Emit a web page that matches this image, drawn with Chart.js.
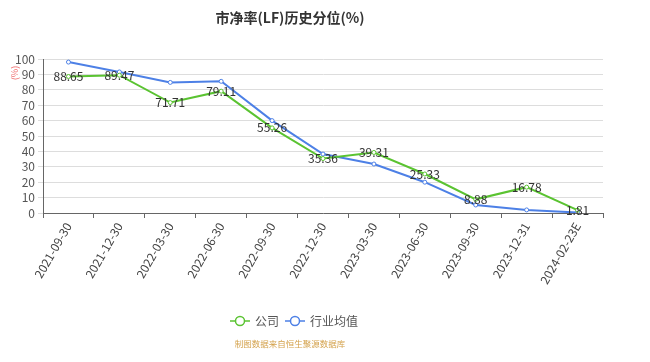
<!DOCTYPE html>
<html>
<head>
<meta charset="utf-8">
<script src="https://cdn.jsdelivr.net/npm/chart.js@4/dist/chart.umd.min.js"></script>
<style>
  html, body { margin: 0; padding: 0; background: #fff; }
  #wrap { width: 650px; height: 362px; }
</style>
</head>
<body>
<div id="wrap"><canvas id="pbChart" width="650" height="362"></canvas></div>
<script>
const dates = ['2021-09-30', '2021-12-30', '2022-03-30', '2022-06-30', '2022-09-30', '2022-12-30',
  '2023-03-30', '2023-06-30', '2023-09-30', '2023-12-31', '2024-02-23E'];
const companyPct = [88.65, 89.47, 71.71, 79.11, 55.26, 35.36, 39.31, 25.33, 8.88, 16.78, 1.81];
const industryPct = [98.0, 91.6, 84.8, 85.5, 60.0, 38.3, 31.8, 20.0, 5.2, 2.0, 0.3];

const GREEN = '#5ac331';
const BLUE = '#4d80e6';
const FONT = "'Noto Sans CJK SC', 'Noto Sans', sans-serif";

// labels on company points + title, legend, source, unit
const extras = {
  id: 'extras',
  afterDatasetsDraw(chart) {
    const c = chart.ctx;
    const meta = chart.getDatasetMeta(0);
    c.save();
    c.font = '12px ' + FONT;
    c.fillStyle = '#333';
    c.textAlign = 'center';
    c.textBaseline = 'middle';
    meta.data.forEach((pt, i) => {
      c.fillText(companyPct[i].toFixed(2), pt.x, pt.y);
    });
    c.restore();
  },
  afterDraw(chart) {
    const c = chart.ctx;
    c.save();
    // title
    c.font = 'bold 14px ' + FONT;
    c.fillStyle = '#333';
    c.textAlign = 'center';
    c.textBaseline = 'middle';
    c.fillText('市净率(LF)历史分位(%)', 290, 18);

    // unit
    c.save();
    c.translate(15, 73);
    c.rotate(-Math.PI / 2);
    c.font = '9px ' + FONT;
    c.fillStyle = '#f07070';
    c.fillText('(%)', 0, 0);
    c.restore();

    // legend
    const items = [['公司', GREEN, 230], ['行业均值', BLUE, 285]];
    c.font = '12px ' + FONT;
    c.textAlign = 'left';
    items.forEach(([txt, col, x]) => {
      const y = 321;
      c.strokeStyle = col;
      c.lineWidth = 1.5;
      c.beginPath();
      c.moveTo(x, y); c.lineTo(x + 20, y);
      c.stroke();
      c.beginPath();
      c.arc(x + 10, y, 4.5, 0, Math.PI * 2);
      c.fillStyle = '#fff';
      c.fill();
      c.stroke();
      c.fillStyle = '#555';
      c.fillText(txt, x + 25, y);
    });

    // source
    c.font = '8.5px ' + FONT;
    c.fillStyle = '#d4a24c';
    c.textAlign = 'center';
    c.fillText('制图数据来自恒生聚源数据库', 290, 344);
    c.restore();
  }
};

const ctx = document.getElementById('pbChart').getContext('2d');
new Chart(ctx, {
  type: 'line',
  data: {
    labels: dates,
    datasets: [
      {
        label: '公司',
        data: companyPct,
        borderColor: GREEN,
        backgroundColor: '#fff',
        borderWidth: 2,
        pointRadius: 2,
        pointBorderWidth: 1,
        tension: 0
      },
      {
        label: '行业均值',
        data: industryPct,
        borderColor: BLUE,
        backgroundColor: '#fff',
        borderWidth: 2,
        pointRadius: 2,
        pointBorderWidth: 1,
        tension: 0
      }
    ]
  },
  options: {
    responsive: false,
    animation: false,
    layout: { padding: { top: 59, left: 0, right: 47, bottom: 70 } },
    plugins: {
      legend: { display: false },
      title: { display: false },
      tooltip: { enabled: false }
    },
    scales: {
      x: {
        offset: true,
        grid: { offset: true, drawOnChartArea: false, tickLength: 5, color: '#666' },
        border: { color: '#666' },
        ticks: {
          color: '#444',
          font: { size: 12, family: FONT },
          maxRotation: 60,
          minRotation: 60,
          autoSkip: false,
          padding: 2
        },
        afterFit: axis => { axis.height = 79; }
      },
      y: {
        min: 0,
        max: 100,
        ticks: { stepSize: 10, autoSkip: false, color: '#555', font: { size: 12, family: FONT }, padding: 3 },
        grid: { color: '#ddd', tickLength: 5 },
        border: { color: '#666' },
        afterFit: axis => { axis.width = 43; }
      }
    }
  },
  plugins: [extras]
});
</script>
</body>
</html>
